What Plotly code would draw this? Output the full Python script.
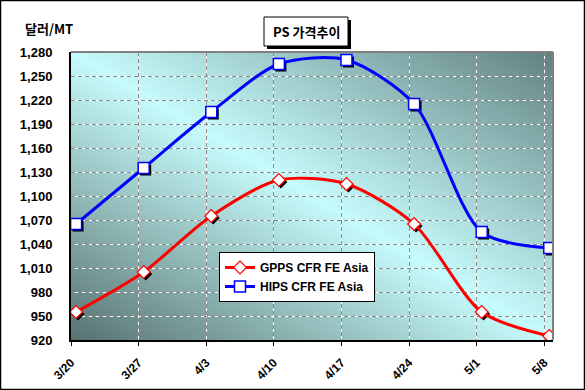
import base64
import plotly.graph_objects as go

# ---- data ----
dates = ["3/20", "3/27", "4/3", "4/10", "4/17", "4/24", "5/1", "5/8"]
gpps = [955, 1005, 1075, 1120, 1115, 1065, 955, 925]
hips = [1065, 1135, 1205, 1265, 1270, 1215, 1055, 1035]
y_ticks = list(range(920, 1281, 30))

# ---- geometry ----
W, H = 585, 390
L, R, T, B = 71, 32, 52, 50
PW, PH = W - L - R, H - T - B
X_RANGE = [0, 7.13]
Y_RANGE = [920, 1280]
POINT_SHIFT = 0.075  # points sit slightly right of the tick in the original
px_x = (X_RANGE[1] - X_RANGE[0]) / PW
px_y = (Y_RANGE[1] - Y_RANGE[0]) / PH

idx = list(range(len(dates)))
xs = [i + POINT_SHIFT for i in idx]

FONT = "Liberation Sans, Arial, Noto Sans CJK KR, sans-serif"
KFONT = "Noto Sans CJK KR, Liberation Sans, sans-serif"


def px2paper_x(px):
    return (px - L) / PW


def px2paper_y(py):
    return (H - B - py) / PH


svg = (
    "<svg xmlns='http://www.w3.org/2000/svg' width='481' height='288' preserveAspectRatio='none'>"
    "<defs><linearGradient id='g' x1='0' y1='1' x2='1' y2='0'>"
    "<stop offset='0' stop-color='#577270'/>"
    "<stop offset='0.5' stop-color='#c6fbfb'/>"
    "<stop offset='1' stop-color='#628181'/>"
    "</linearGradient></defs>"
    "<rect width='481' height='288' fill='url(#g)'/></svg>"
)
bg_src = "data:image/svg+xml;base64," + base64.b64encode(svg.encode()).decode()

fig = go.Figure()

# marker shadows
sx = [x + 2 * px_x for x in xs]
fig.add_trace(go.Scatter(x=sx, y=[v - 2 * px_y for v in gpps], mode="markers",
                         marker=dict(symbol="diamond", size=10, color="black"),
                         showlegend=False, hoverinfo="skip"))
fig.add_trace(go.Scatter(x=sx, y=[v - 2 * px_y for v in hips], mode="markers",
                         marker=dict(symbol="square", size=11, color="black"),
                         showlegend=False, hoverinfo="skip"))

fig.add_trace(go.Scatter(
    x=xs, y=gpps, name="GPPS CFR FE Asia", mode="lines+markers",
    line=dict(color="#ff0000", width=3, shape="spline", smoothing=0.8),
    marker=dict(symbol="diamond", size=10, color="white", line=dict(color="#ff0000", width=1.2)),
))
fig.add_trace(go.Scatter(
    x=xs, y=hips, name="HIPS CFR FE Asia", mode="lines+markers",
    line=dict(color="#0000ff", width=3, shape="spline", smoothing=0.8),
    marker=dict(symbol="square", size=11, color="white", line=dict(color="#0000ff", width=1.5)),
))

fig.update_layout(
    width=W, height=H,
    margin=dict(l=L, r=R, t=T, b=B, autoexpand=False),
    paper_bgcolor="white",
    plot_bgcolor="rgba(0,0,0,0)",
    font=dict(family=FONT, size=12, color="black"),
    images=[dict(source=bg_src, xref="paper", yref="paper", x=0, y=1, sizex=1, sizey=1,
                 sizing="stretch", layer="below", xanchor="left", yanchor="top")],
    xaxis=dict(range=X_RANGE, tickmode="array", tickvals=idx, ticktext=dates,
               tickangle=-45, showgrid=True, gridcolor="white", gridwidth=1,
               zeroline=False, showline=True, linecolor="black", linewidth=2,
               ticks="outside", ticklen=4, tickcolor="black", ticklabelstandoff=5,
               tickfont=dict(family=FONT, size=12, weight="bold")),
    yaxis=dict(range=Y_RANGE, tickmode="array", tickvals=y_ticks,
               tickformat=",", showgrid=True, gridcolor="white", gridwidth=1,
               zeroline=False, showline=True, linecolor="black", linewidth=2,
               ticks="", ticklabelstandoff=14,
               tickfont=dict(family=FONT, size=13, weight="bold")),
    xaxis2=dict(range=X_RANGE, overlaying="x", tickmode="array", tickvals=idx,
                showticklabels=False, showgrid=True, gridcolor="#8c8c8c",
                griddash="4px,3px", zeroline=False, showline=False),
    yaxis2=dict(range=Y_RANGE, overlaying="y", tickmode="array", tickvals=y_ticks,
                showticklabels=False, showgrid=True, gridcolor="#8c8c8c",
                griddash="4px,3px", zeroline=False, showline=False),
    legend=dict(x=px2paper_x(219), y=px2paper_y(252), xanchor="left", yanchor="top",
                bgcolor="white", bordercolor="black", borderwidth=1,
                font=dict(family=FONT, size=12, weight="bold"),
                tracegroupgap=0, itemwidth=30),
    showlegend=True,
)

# invisible trace to activate overlay axes
fig.add_trace(go.Scatter(x=[None], y=[None], xaxis="x2", yaxis="y2", showlegend=False,
                         hoverinfo="skip"))

# title box with shadow (drawn as shapes), text as annotation
fig.add_shape(type="rect", xref="paper", yref="paper",
              x0=px2paper_x(267), x1=px2paper_x(351),
              y0=px2paper_y(49), y1=px2paper_y(20),
              fillcolor="black", line=dict(width=0), layer="above")
fig.add_shape(type="rect", xref="paper", yref="paper",
              x0=px2paper_x(264), x1=px2paper_x(348),
              y0=px2paper_y(46), y1=px2paper_y(17),
              fillcolor="white", line=dict(color="black", width=1), layer="above")
fig.add_annotation(text="PS 가격추이", xref="paper", yref="paper",
                   x=px2paper_x(306), y=px2paper_y(31.5), showarrow=False,
                   xanchor="center", yanchor="middle",
                   font=dict(family=KFONT, size=13, weight="bold"))
fig.add_annotation(text="달러/MT", xref="paper", yref="paper",
                   x=px2paper_x(49), y=px2paper_y(29), showarrow=False,
                   xanchor="center", yanchor="middle",
                   font=dict(family=KFONT, size=13, weight="bold"))

# plot frame (top/right grey) and outer border
fig.add_shape(type="line", xref="paper", yref="paper", x0=0, x1=1, y0=1, y1=1,
              line=dict(color="#808080", width=2))
fig.add_shape(type="line", xref="paper", yref="paper", x0=1, x1=1, y0=0, y1=1,
              line=dict(color="#808080", width=2))
fig.add_shape(type="rect", xref="paper", yref="paper",
              x0=px2paper_x(0.5), x1=px2paper_x(W - 0.5),
              y0=px2paper_y(H - 0.5), y1=px2paper_y(0.5),
              line=dict(color="black", width=1.5))

fig.write_html("out.html", config={"displayModeBar": False},
               post_script="document.body.style.margin='0';document.body.style.padding='0';")
